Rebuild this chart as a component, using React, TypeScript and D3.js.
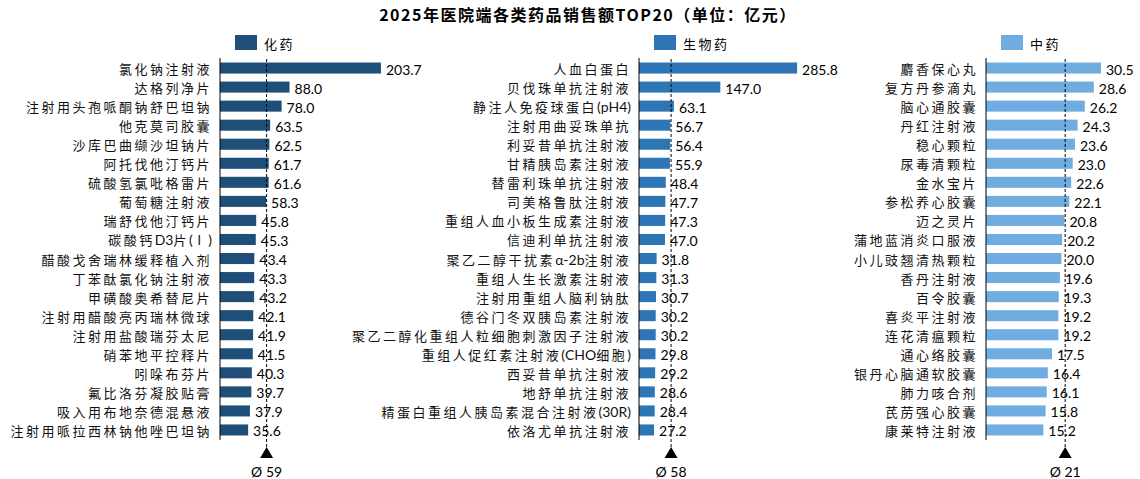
import React from "react";
import * as d3 from "d3";

const chemNames = [
  "氯化钠注射液", "达格列净片", "注射用头孢哌酮钠舒巴坦钠", "他克莫司胶囊", "沙库巴曲缬沙坦钠片",
  "阿托伐他汀钙片", "硫酸氢氯吡格雷片", "葡萄糖注射液", "瑞舒伐他汀钙片", "碳酸钙D3片(Ⅰ)",
  "醋酸戈舍瑞林缓释植入剂", "丁苯酞氯化钠注射液", "甲磺酸奥希替尼片", "注射用醋酸亮丙瑞林微球", "注射用盐酸瑞芬太尼",
  "硝苯地平控释片", "吲哚布芬片", "氟比洛芬凝胶贴膏", "吸入用布地奈德混悬液", "注射用哌拉西林钠他唑巴坦钠",
];
const chemValues = [203.7, 88.0, 78.0, 63.5, 62.5, 61.7, 61.6, 58.3, 45.8, 45.3, 43.4, 43.3, 43.2, 42.1, 41.9, 41.5, 40.3, 39.7, 37.9, 35.6];

const bioNames = [
  "人血白蛋白", "贝伐珠单抗注射液", "静注人免疫球蛋白(pH4)", "注射用曲妥珠单抗", "利妥昔单抗注射液",
  "甘精胰岛素注射液", "替雷利珠单抗注射液", "司美格鲁肽注射液", "重组人血小板生成素注射液", "信迪利单抗注射液",
  "聚乙二醇干扰素α-2b注射液", "重组人生长激素注射液", "注射用重组人脑利钠肽", "德谷门冬双胰岛素注射液", "聚乙二醇化重组人粒细胞刺激因子注射液",
  "重组人促红素注射液(CHO细胞)", "西妥昔单抗注射液", "地舒单抗注射液", "精蛋白重组人胰岛素混合注射液(30R)", "依洛尤单抗注射液",
];
const bioValues = [285.8, 147.0, 63.1, 56.7, 56.4, 55.9, 48.4, 47.7, 47.3, 47.0, 31.8, 31.3, 30.7, 30.2, 30.2, 29.8, 29.2, 28.6, 28.4, 27.2];

const tcmNames = [
  "麝香保心丸", "复方丹参滴丸", "脑心通胶囊", "丹红注射液", "稳心颗粒",
  "尿毒清颗粒", "金水宝片", "参松养心胶囊", "迈之灵片", "蒲地蓝消炎口服液",
  "小儿豉翘清热颗粒", "香丹注射液", "百令胶囊", "喜炎平注射液", "连花清瘟颗粒",
  "通心络胶囊", "银丹心脑通软胶囊", "肺力咳合剂", "芪苈强心胶囊", "康莱特注射液",
];
const tcmValues = [30.5, 28.6, 26.2, 24.3, 23.6, 23.0, 22.6, 22.1, 20.8, 20.2, 20.0, 19.6, 19.3, 19.2, 19.2, 17.5, 16.4, 16.1, 15.8, 15.2];

const seriesNames = ["化药", "生物药", "中药"];
const averages = [59, 58, 21];

const title = "2025年医院端各类药品销售额TOP20（单位：亿元）";

const W = 1140;
const H = 479;
const cjk = "'Noto Sans CJK SC', sans-serif";
const num = "Lato, 'Open Sans', sans-serif";

type Panel = {
  names: string[];
  values: number[];
  label: string;
  avg: number;
  color: string;
  axisX: number;
  xMax: number;
  width: number;
};

const panels: Panel[] = [
  { names: chemNames, values: chemValues, label: seriesNames[0], avg: averages[0], color: "#1F4E79", axisX: 220, xMax: 250, width: 197.5 },
  { names: bioNames, values: bioValues, label: seriesNames[1], avg: averages[1], color: "#2E75B6", axisX: 639, xMax: 350, width: 193.6 },
  { names: tcmNames, values: tcmValues, label: seriesNames[2], avg: averages[2], color: "#6FADE0", axisX: 986, xMax: 40, width: 150.8 },
];

// split label into CJK runs (spaced out) and latin runs (tight)
function runs(s: string) {
  return s.split(/([\u2160-\u216f\u3000-\u9fff\uff00-\uffef]+)/).filter((r) => r.length > 0);
}

function Label({ x, y, text }: { x: number; y: number; text: string }) {
  return (
    <text x={x} y={y} textAnchor="end" dominantBaseline="central" fontFamily={cjk} fontSize={13} fill="#111">
      {runs(text).map((r, i) =>
        /[\u2160-\u216f\u3000-\u9fff\uff00-\uffef]/.test(r) ? (
          <tspan key={i} letterSpacing={2.5}>{r}</tspan>
        ) : (
          <tspan key={i} fontFamily={num} fontSize={14}>{r}</tspan>
        ),
      )}
    </text>
  );
}

function BarPanel({ p }: { p: Panel }) {
  const x = d3.scaleLinear().domain([0, p.xMax]).range([p.axisX, p.axisX + p.width]);
  const y = d3.scaleBand<string>().domain(p.names).range([58.5, 439.5]).paddingInner(0.42).paddingOuter(0.21);
  const ax = x(p.avg);
  return (
    <g>
      {/* legend */}
      <rect x={p.axisX + 15} y={35} width={22} height={15} fill={p.color} />
      <text x={p.axisX + 44} y={43} dominantBaseline="central" fontFamily={cjk} fontSize={13} letterSpacing={2.5} fill="#000">
        {p.label}
      </text>
      {p.names.map((n, i) => {
        const yc = (y(n) ?? 0) + y.bandwidth() / 2;
        return (
          <g key={n}>
            <rect x={x(0)} y={y(n)} width={x(p.values[i]) - x(0)} height={y.bandwidth()} fill={p.color} />
            <Label x={p.axisX - 8} y={yc} text={n} />
            <text x={x(p.values[i]) + 5} y={yc + 1} dominantBaseline="central" fontFamily={num} fontSize={14} fill="#000">
              {p.values[i].toFixed(1)}
            </text>
          </g>
        );
      })}
      <line x1={p.axisX} x2={p.axisX} y1={58} y2={440} stroke="#000" strokeWidth={1} />
      <line x1={ax} x2={ax} y1={59} y2={448} stroke="#000" strokeWidth={1} strokeDasharray="3,2" />
      <path d={`M${ax},447 L${ax + 6.5},458 L${ax - 6.5},458 Z`} fill="#000" />
      <text x={ax} y={471} textAnchor="middle" dominantBaseline="central" fontFamily={num} fontSize={14} fill="#000">
        {`Ø ${p.avg}`}
      </text>
    </g>
  );
}

export default function App() {
  return (
    <svg width={W} height={H} style={{ position: "absolute", left: 0, top: 0, background: "#fff" }}>
      <rect width={W} height={H} fill="#fff" />
      <text x={588} y={14} textAnchor="middle" dominantBaseline="central" fontFamily={cjk} fontWeight="bold" fontSize={16} letterSpacing={1.5} fill="#000">
        {title}
      </text>
      {panels.map((p) => (
        <BarPanel key={p.label} p={p} />
      ))}
    </svg>
  );
}
